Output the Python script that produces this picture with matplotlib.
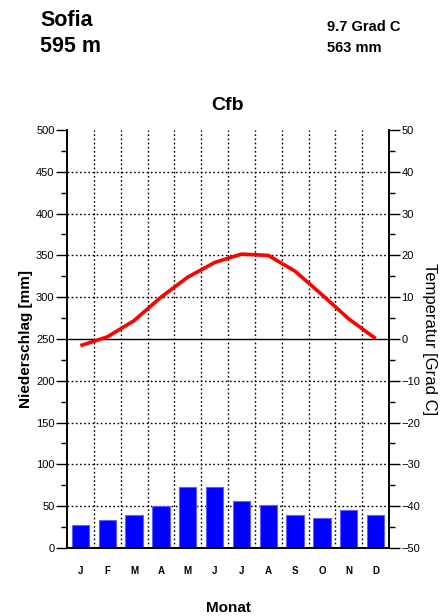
import matplotlib
matplotlib.use("Agg")
import matplotlib.pyplot as plt
import numpy as np

months = ["J", "F", "M", "A", "M", "J", "J", "A", "S", "O", "N", "D"]
precip = [27, 33, 39, 50, 73, 73, 56, 52, 39, 36, 46, 39]
temp = [-1.6, 0.5, 4.4, 10.0, 14.8, 18.3, 20.3, 20.0, 16.2, 10.6, 4.8, 0.1]
station = "Sofia"
elevation = "595 m"
mean_temp = "9.7 Grad C"
total_precip = "563 mm"
climate = "Cfb"

plt.rcParams['font.family'] = ['Liberation Sans', 'DejaVu Sans']

fig = plt.figure(figsize=(4.45, 6.16), dpi=100)
ax = fig.add_axes([0.1506, 0.1104, 0.7236, 0.6786])
ax2 = ax.twinx()

x = np.arange(len(months))
ax.bar(x, precip, width=0.65, color="#0000ff", edgecolor="#6060ff", linewidth=0.8, zorder=3)

ax.set_xlim(-0.5, 11.5)
ax.set_ylim(0, 500)
ax2.set_ylim(-50, 50)

# grid
for xv in np.arange(0.5, 11.5, 1.0):
    ax.axvline(xv, color="black", linestyle=(0, (1.2, 1.8)), linewidth=1.0, zorder=1)
for yv in range(50, 500, 50):
    if yv == 250:
        ax.axhline(yv, color="black", linewidth=1.0, zorder=2)
    else:
        ax.axhline(yv, color="black", linestyle=(0, (1.2, 1.8)), linewidth=1.0, zorder=1)

ax2.plot(x, temp, color="#ff0000", linewidth=2.6, zorder=4, solid_capstyle="butt")

ax.set_yticks(range(0, 501, 50))
ax.set_yticks(range(25, 500, 50), minor=True)
ax2.set_yticks(range(-50, 51, 10))
ax2.set_yticks(range(-45, 50, 10), minor=True)

ax.tick_params(axis="y", which="major", length=8, width=1.0, labelsize=8, pad=1)
ax.tick_params(axis="y", which="minor", length=4, width=1.0)
ax2.tick_params(axis="y", which="major", length=8, width=1.0, labelsize=8, pad=1)
ax2.tick_params(axis="y", which="minor", length=4, width=1.0)

ax.set_xticks(x)
ax.set_xticklabels(months, fontsize=7, fontweight="bold")
ax.tick_params(axis="x", length=0, pad=13)

for a in (ax, ax2):
    for s in a.spines.values():
        s.set_linewidth(1.2)
    a.spines["top"].set_visible(False)

ax.set_ylabel("Niederschlag [mm]", fontsize=11, fontweight="bold", labelpad=2)
ax2.set_ylabel("Temperatur [Grad C]", fontsize=12, rotation=-90, labelpad=12)

fig.text(228/445, 1 - 608/616, "Monat", fontsize=11, fontweight="bold", ha="center", va="center")
fig.text(40/445, 1 - 20/616, station, fontsize=15.5, fontweight="bold", ha="left", va="center")
fig.text(40/445, 1 - 47/616, elevation, fontsize=15.5, fontweight="bold", ha="left", va="center")
fig.text(327/445, 1 - 27/616, mean_temp, fontsize=10.5, fontweight="bold", ha="left", va="center")
fig.text(327/445, 1 - 48/616, total_precip, fontsize=10.5, fontweight="bold", ha="left", va="center")
fig.text(228/445, 1 - 106/616, climate, fontsize=14, fontweight="bold", ha="center", va="center")

fig.savefig("out.png", dpi=100)
